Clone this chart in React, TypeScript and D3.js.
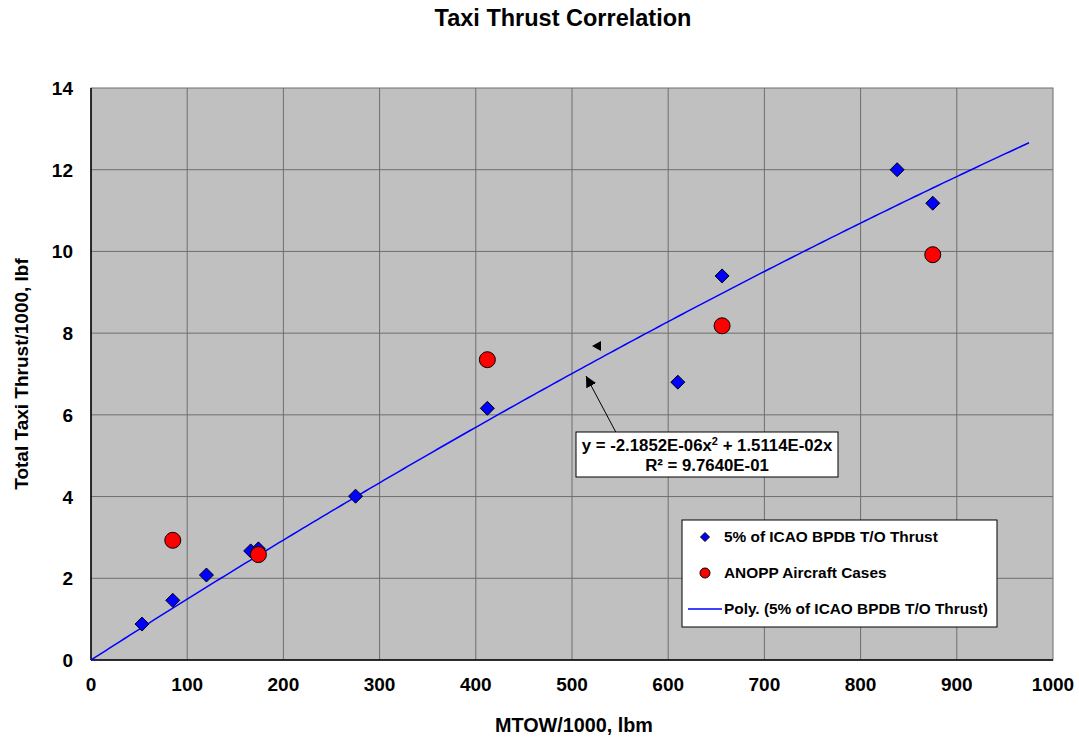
import React from "react";
import * as d3 from "d3";

// ICAO BPDB take-off thrust (5%) vs. MTOW
const icaoMtow = [53, 85, 120, 166, 174, 275, 412, 610, 656, 838, 875];
const icaoThrust = [0.88, 1.46, 2.08, 2.67, 2.72, 4.01, 6.16, 6.8, 9.4, 12.0, 11.18];

// ANOPP aircraft cases
const anoppMtow = [85, 174, 412, 656, 875];
const anoppThrust = [2.93, 2.58, 7.35, 8.18, 9.92];

// Polynomial trendline coefficients (through origin)
const polyA = -2.1852e-6;
const polyB = 1.5114e-2;
const polyXEnd = 975;

const xTicks = [0, 100, 200, 300, 400, 500, 600, 700, 800, 900, 1000];
const yTicks = [0, 2, 4, 6, 8, 10, 12, 14];

const W = 1079;
const H = 738;
const M = { left: 91, right: 1053, top: 88, bottom: 660 };
const FONT = "'Liberation Sans', Arial, Helvetica, sans-serif";

export default function App() {
  const x = d3.scaleLinear().domain([0, 1000]).range([M.left, M.right]);
  const y = d3.scaleLinear().domain([0, 14]).range([M.bottom, M.top]);

  const trendX = d3.range(0, polyXEnd + 1, 5);
  const trend = d3
    .line<number>()
    .x((d) => x(d))
    .y((d) => y(polyA * d * d + polyB * d))(trendX) as string;

  const diamond = (cx: number, cy: number, r: number) =>
    `M${cx},${cy - r}L${cx + r},${cy}L${cx},${cy + r}L${cx - r},${cy}Z`;

  return (
    <svg
      width={W}
      height={H}
      style={{ position: "absolute", left: 0, top: 0 }}
      fontFamily={FONT}
    >
      <defs>
        <marker
          id="arrowHead"
          viewBox="0 0 10 10"
          refX="10"
          refY="5"
          markerWidth="11"
          markerHeight="11"
          markerUnits="userSpaceOnUse"
          orient="auto"
        >
          <path d="M0,0L10,5L0,10Z" fill="#000" />
        </marker>
      </defs>
      <rect x={0} y={0} width={W} height={H} fill="#fff" />
      <text x={563} y={26} textAnchor="middle" fontSize={23.5} fontWeight="bold">
        Taxi Thrust Correlation
      </text>

      {/* plot area */}
      <rect
        x={M.left}
        y={M.top}
        width={M.right - M.left}
        height={M.bottom - M.top}
        fill="#c0c0c0"
      />
      {xTicks.slice(1, -1).map((t) => (
        <line
          key={"gx" + t}
          x1={x(t)}
          x2={x(t)}
          y1={M.top}
          y2={M.bottom}
          stroke="#6e6e6e"
          strokeWidth={1}
        />
      ))}
      {yTicks.slice(1, -1).map((t) => (
        <line
          key={"gy" + t}
          x1={M.left}
          x2={M.right}
          y1={y(t)}
          y2={y(t)}
          stroke="#6e6e6e"
          strokeWidth={1}
        />
      ))}
      <rect
        x={M.left}
        y={M.top}
        width={M.right - M.left}
        height={M.bottom - M.top}
        fill="none"
        stroke="#6e6e6e"
        strokeWidth={1}
      />
      <line x1={M.left} x2={M.left} y1={M.top} y2={M.bottom} stroke="#000" strokeWidth={1.5} />
      <line x1={M.left} x2={M.right} y1={M.bottom} y2={M.bottom} stroke="#000" strokeWidth={1.5} />

      {/* tick labels */}
      {xTicks.map((t) => (
        <text
          key={"tx" + t}
          x={x(t)}
          y={691}
          textAnchor="middle"
          fontSize={19}
          fontWeight="bold"
        >
          {t}
        </text>
      ))}
      {yTicks.map((t) => (
        <text
          key={"ty" + t}
          x={73}
          y={y(t) + 7}
          textAnchor="end"
          fontSize={19}
          fontWeight="bold"
        >
          {t}
        </text>
      ))}
      <text x={574} y={732} textAnchor="middle" fontSize={19.8} fontWeight="bold">
        MTOW/1000, lbm
      </text>
      <text
        transform={`translate(28,${374}) rotate(-90)`}
        textAnchor="middle"
        fontSize={19}
        fontWeight="bold"
      >
        Total Taxi Thrust/1000, lbf
      </text>

      {/* trendline */}
      <path d={trend} fill="none" stroke="#0000ff" strokeWidth={1.5} />

      {/* data */}
      {icaoMtow.map((m, i) => (
        <path
          key={"d" + i}
          d={diamond(x(m), y(icaoThrust[i]), 7)}
          fill="#0000ff"
          stroke="#000"
          strokeWidth={1}
        />
      ))}
      {anoppMtow.map((m, i) => (
        <circle
          key={"c" + i}
          cx={x(anoppMtow[i])}
          cy={y(anoppThrust[i])}
          r={8}
          fill="#ff0000"
          stroke="#000"
          strokeWidth={1}
        />
      ))}

      {/* trendline annotation */}
      <path d="M592,346L601,341L601,351Z" fill="#000" />
      <line
        x1={620}
        y1={440}
        x2={586}
        y2={376}
        stroke="#000"
        strokeWidth={1}
        markerEnd="url(#arrowHead)"
      />
      <rect x={576} y={432} width={262} height={45} fill="#fff" stroke="#000" strokeWidth={1} />
      <text x={707} y={451} textAnchor="middle" fontSize={16.8} fontWeight="bold">
        y = -2.1852E-06x<tspan dy={-6} fontSize={11}>2</tspan>
        <tspan dy={6}> + 1.5114E-02x</tspan>
      </text>
      <text x={707} y={471} textAnchor="middle" fontSize={16.8} fontWeight="bold">
        R² = 9.7640E-01
      </text>

      {/* legend */}
      <rect x={682} y={520} width={315} height={107} fill="#fff" stroke="#000" strokeWidth={1} />
      <path d={diamond(705, 537, 4.5)} fill="#0000ff" stroke="#000" strokeWidth={1} />
      <text x={724} y={542} fontSize={15.4} fontWeight="bold">
        5% of ICAO BPDB T/O Thrust
      </text>
      <circle cx={705} cy={573} r={5} fill="#ff0000" stroke="#000" strokeWidth={1} />
      <text x={724} y={578} fontSize={15.4} fontWeight="bold">
        ANOPP Aircraft Cases
      </text>
      <line x1={688} x2={722} y1={609} y2={609} stroke="#0000ff" strokeWidth={1.5} />
      <text x={724} y={614} fontSize={15.4} fontWeight="bold">
        Poly. (5% of ICAO BPDB T/O Thrust)
      </text>
    </svg>
  );
}
